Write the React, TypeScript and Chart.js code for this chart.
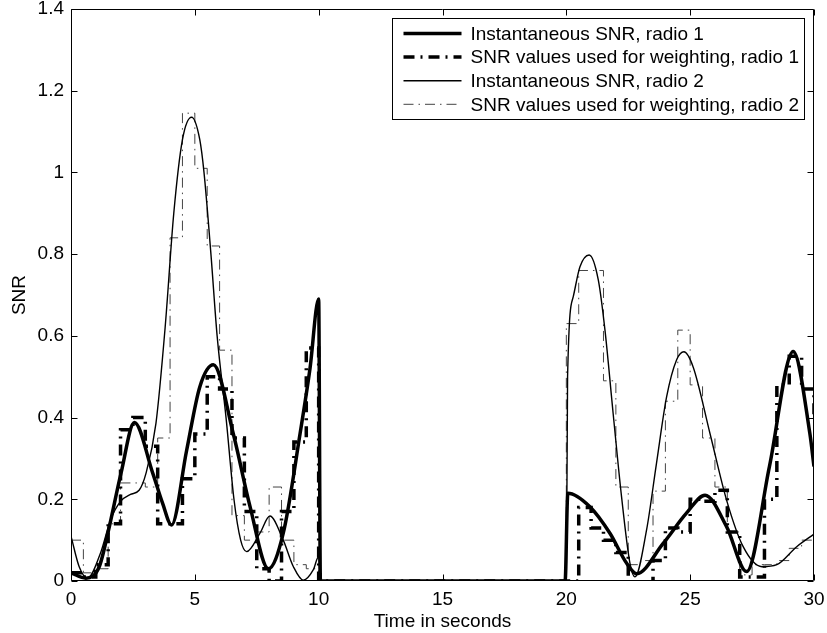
import React, { useEffect, useRef } from "react";
import { Chart, registerables } from "chart.js";

Chart.register(...registerables);

const FONT = "'Liberation Sans', Arial, Helvetica, sans-serif";
const FONT_SIZE = 19;

const xTickValues = [0, 5, 10, 15, 20, 25, 30];
const xTickLabels = ["0", "5", "10", "15", "20", "25", "30"];
const yTickValues = [0, 0.2, 0.4, 0.6, 0.8, 1.0, 1.2, 1.4];
const yTickLabels = ["0", "0.2", "0.4", "0.6", "0.8", "1", "1.2", "1.4"];

const seriesLabels = [
  "Instantaneous SNR, radio 1",
  "SNR values used for weighting, radio 1",
  "Instantaneous SNR, radio 2",
  "SNR values used for weighting, radio 2",
];

// Instantaneous SNR, radio 1
const inst1Time = [0, 0.6, 1.14, 1.5, 2.02, 2.56, 3.3, 3.7, 4.06, 4.67, 5.2, 5.75, 6.55, 7.23, 7.97, 8.57, 9.25, 9.65, 10.0, 10.07,
  19.95, 20.06, 20.95, 21.76, 22.43, 22.84, 23.91, 24.85, 25.6, 26.47, 27.28, 28.2, 29.16, 29.83, 30];
const inst1Snr = [0.02, 0.007, 0.035, 0.12, 0.264, 0.388, 0.264, 0.19, 0.137, 0.32, 0.475, 0.529, 0.361, 0.182, 0.03, 0.117, 0.361, 0.52, 0.69, 0,
  0, 0.215, 0.182, 0.117, 0.044, 0.018, 0.092, 0.166, 0.21, 0.133, 0.023, 0.28, 0.562, 0.362, 0.28];

// SNR values used for weighting, radio 1 (held from each time to the next)
const weight1Time = [0, 0.5, 1.0, 1.5, 2.0, 2.5, 3.0, 3.5, 4.0, 4.5, 5.0, 5.5, 6.0, 6.5, 7.0, 7.5, 8.0, 8.5, 9.0, 9.5, 10.0,
  20.5, 21.0, 21.5, 22.0, 22.5, 23.0, 23.5, 24.0, 24.5, 25.0, 25.5, 26.0, 26.5, 27.0, 27.5, 28.0, 28.5, 29.0, 29.5, 30];
const weight1Snr = [0.02, 0.01, 0.04, 0.14, 0.37, 0.40, 0.33, 0.14, 0.14, 0.25, 0.36, 0.50, 0.47, 0.35, 0.17, 0.03, 0.0, 0.17, 0.34, 0.57, 0,
  0.18, 0.13, 0.10, 0.07, -0.05, -0.05, 0.05, 0.13, 0.12, 0.20, 0.195, 0.222, 0.12, 0.01, 0.01, 0.20, 0.48, 0.55, 0.47, 0.40];

// Instantaneous SNR, radio 2
const inst2Time = [0, 0.33, 0.67, 1.2, 1.6, 2.0, 2.4, 2.75, 3.03, 3.43, 3.8, 4.15, 4.5, 4.87, 5.2, 5.37, 5.65, 5.9, 6.26, 6.58, 6.85, 7.09, 7.63, 8.03, 8.57, 8.98, 9.38, 9.78, 10.0, 10.05,
  20.0, 20.05, 20.28, 20.55, 20.92, 21.29, 21.56, 21.89, 22.23, 22.57, 22.77, 23.24, 23.64, 24.05, 24.45, 24.75, 25.12, 25.8, 26.47, 27.14, 27.9, 28.5, 29.3, 30];
const inst2Snr = [0.11, 0.035, 0.007, 0.07, 0.15, 0.195, 0.212, 0.222, 0.264, 0.386, 0.62, 0.9, 1.08, 1.135, 1.08, 1.0, 0.8, 0.6, 0.4, 0.2, 0.1, 0.072, 0.117, 0.159, 0.1, 0.035, 0.002, 0.027, 0.06, 0,
  0, 0.5, 0.696, 0.769, 0.798, 0.737, 0.614, 0.41, 0.206, 0.043, 0.01, 0.125, 0.288, 0.451, 0.541, 0.561, 0.524, 0.361, 0.198, 0.084, 0.035, 0.04, 0.084, 0.115];

// SNR values used for weighting, radio 2 (held from each time to the next)
const weight2Time = [0, 0.5, 1.0, 1.5, 2.0, 2.5, 3.0, 3.5, 4.0, 4.5, 5.0, 5.5, 6.0, 6.5, 7.0, 7.5, 8.0, 8.5, 9.0, 9.5, 10.0,
  20.0, 20.5, 21.0, 21.5, 22.0, 22.5, 23.0, 23.5, 24.0, 24.5, 25.0, 25.5, 26.0, 26.5, 27.0, 27.5, 28.0, 28.5, 29.0, 29.5, 30];
const weight2Snr = [0.10, 0.02, 0.03, 0.14, 0.24, 0.24, 0.23, 0.35, 0.84, 1.145, 1.01, 0.82, 0.565, 0.16, 0.10, 0.12, 0.23, 0.10, 0.04, 0.03, 0,
  0.63, 0.76, 0.76, 0.49, 0.23, 0.04, 0.05, 0.22, 0.44, 0.614, 0.48, 0.35, 0.23, 0.12, 0.015, 0.04, 0.04, 0.05, 0.08, 0.10, 0.10];

function toPoints(t: number[], v: number[]) {
  return t.map((x, i) => ({ x, y: v[i] }));
}

const framePlugin = {
  id: "matlabFrame",
  afterDatasetsDraw(chart: any) {
    const { ctx, chartArea: a, scales } = chart;
    const L = 6;
    const left = Math.round(a.left) + 0.5;
    const right = Math.round(a.right) - 0.5;
    const top = Math.round(a.top) + 0.5;
    const bottom = Math.round(a.bottom) - 0.5;
    ctx.save();
    ctx.strokeStyle = "#000";
    ctx.lineWidth = 1;
    ctx.setLineDash([]);
    ctx.beginPath();
    ctx.rect(left, top, right - left, bottom - top);
    xTickValues.forEach((v) => {
      const px = Math.round(scales.x.getPixelForValue(v)) + 0.5;
      ctx.moveTo(px, bottom);
      ctx.lineTo(px, bottom - L);
      ctx.moveTo(px, top);
      ctx.lineTo(px, top + L);
    });
    yTickValues.forEach((v) => {
      const py = Math.round(scales.y.getPixelForValue(v)) + 0.5;
      ctx.moveTo(left, py);
      ctx.lineTo(left + L, py);
      ctx.moveTo(right, py);
      ctx.lineTo(right - L, py);
    });
    ctx.stroke();
    ctx.restore();
  },
  afterDraw(chart: any) {
    const { ctx, chartArea: a } = chart;
    const ds = chart.data.datasets;
    ctx.save();
    ctx.font = `${FONT_SIZE}px ${FONT}`;
    let maxW = 0;
    ds.forEach((d: any) => {
      maxW = Math.max(maxW, ctx.measureText(d.label).width);
    });
    const boxRight = Math.round(a.right) - 9.5;
    const boxTop = Math.round(a.top) + 9.5;
    const rowH = 23.6;
    const boxLeft = Math.round(boxRight - (maxW + 78 + 6)) + 0.5;
    const boxBottom = Math.round(boxTop + rowH * ds.length + 6) + 0.5;
    ctx.fillStyle = "#fff";
    ctx.fillRect(boxLeft, boxTop, boxRight - boxLeft, boxBottom - boxTop);
    ctx.strokeStyle = "#000";
    ctx.lineWidth = 1;
    ctx.setLineDash([]);
    ctx.strokeRect(boxLeft, boxTop, boxRight - boxLeft, boxBottom - boxTop);
    ds.forEach((d: any, i: number) => {
      const y = boxTop + 15 + i * rowH;
      ctx.save();
      ctx.strokeStyle = d.borderColor;
      ctx.lineWidth = d.borderWidth;
      ctx.setLineDash(d.borderDash || []);
      ctx.beginPath();
      ctx.moveTo(boxLeft + 11, y);
      ctx.lineTo(boxLeft + 69, y);
      ctx.stroke();
      ctx.restore();
      ctx.fillStyle = "#000";
      ctx.textBaseline = "middle";
      ctx.textAlign = "left";
      ctx.fillText(d.label, boxLeft + 78, y + 1);
    });
    ctx.restore();
  },
};

function clearPadding(s: any) {
  s.paddingTop = 0;
  s.paddingBottom = 0;
  s.paddingLeft = 0;
  s.paddingRight = 0;
}

export default function App() {
  const canvasRef = useRef<HTMLCanvasElement | null>(null);

  useEffect(() => {
    document.body.style.margin = "0";
    const canvas = canvasRef.current;
    if (!canvas) return;
    const font = { family: FONT, size: FONT_SIZE };
    const chart = new Chart(canvas, {
      type: "line",
      data: {
        datasets: [
          {
            label: seriesLabels[0],
            data: toPoints(inst1Time, inst1Snr),
            borderColor: "#000",
            borderWidth: 3.5,
            borderDash: [],
            pointRadius: 0,
            fill: false,
            cubicInterpolationMode: "monotone",
          },
          {
            label: seriesLabels[1],
            data: toPoints(weight1Time, weight1Snr),
            borderColor: "#000",
            borderWidth: 3.5,
            borderDash: [11, 6, 2, 6],
            pointRadius: 0,
            fill: false,
            stepped: "before",
          },
          {
            label: seriesLabels[2],
            data: toPoints(inst2Time, inst2Snr),
            borderColor: "#000",
            borderWidth: 1.4,
            borderDash: [],
            pointRadius: 0,
            fill: false,
            cubicInterpolationMode: "monotone",
          },
          {
            label: seriesLabels[3],
            data: toPoints(weight2Time, weight2Snr),
            borderColor: "#444",
            borderWidth: 1,
            borderDash: [10, 5, 1.5, 5],
            pointRadius: 0,
            fill: false,
            stepped: "before",
          },
        ] as any,
      },
      options: {
        animation: false,
        responsive: false,
        maintainAspectRatio: false,
        devicePixelRatio: 1,
        layout: { padding: { top: 9, right: 13, left: 0, bottom: 0 } },
        plugins: {
          legend: { display: false },
          tooltip: { enabled: false },
        },
        events: [],
        scales: {
          x: {
            type: "linear",
            min: 0,
            max: 30,
            afterBuildTicks: (s: any) => {
              s.ticks = xTickValues.map((v) => ({ value: v }));
            },
            afterFit: (s: any) => {
              s.height = 52;
              clearPadding(s);
            },
            ticks: {
              font,
              color: "#000",
              padding: 7,
              maxRotation: 0,
              autoSkip: false,
              callback: (_v: any, i: number) => xTickLabels[i],
            },
            grid: { display: false, drawTicks: false },
            border: { display: false },
            title: {
              display: true,
              text: "Time in seconds",
              font,
              color: "#000",
              padding: { top: 0, bottom: 0 },
            },
          },
          y: {
            type: "linear",
            min: 0,
            max: 1.4,
            afterBuildTicks: (s: any) => {
              s.ticks = yTickValues.map((v) => ({ value: v }));
            },
            afterFit: (s: any) => {
              s.width = 71;
              clearPadding(s);
            },
            ticks: {
              font,
              color: "#000",
              padding: 7,
              autoSkip: false,
              callback: (_v: any, i: number) => yTickLabels[i],
            },
            grid: { display: false, drawTicks: false },
            border: { display: false },
            title: {
              display: true,
              text: "SNR",
              font,
              color: "#000",
              padding: { top: 8, bottom: 0 },
            },
          },
        },
      } as any,
      plugins: [framePlugin],
    });
    return () => chart.destroy();
  }, []);

  return (
    <div style={{ width: 827, height: 633, background: "#fff" }}>
      <canvas ref={canvasRef} width={827} height={633} style={{ display: "block" }} />
    </div>
  );
}
